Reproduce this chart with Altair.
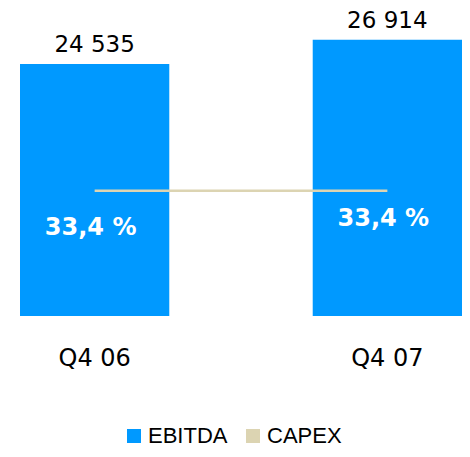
import altair as alt
import pandas as pd

quarters = ["Q4 06", "Q4 07"]
ebitda = [24535, 26914]
capex = [12200, 12200]
value_labels = ["24 535", "26 914"]
margin_labels = ["33,4 %", "33,4 %"]
series = ["EBITDA", "CAPEX"]
colors = ["#0099FF", "#DCD4B2"]

df = pd.DataFrame({
    "quarter": quarters,
    "ebitda": ebitda,
    "capex": capex,
    "vlabel": value_labels,
    "mlabel": margin_labels,
    "series": ["EBITDA"] * len(quarters),
})

xenc = alt.X(
    "quarter:N",
    sort=quarters,
    scale=alt.Scale(range=[12, 454], paddingInner=0.49, paddingOuter=0),
    axis=alt.Axis(title=None, labelAngle=0, ticks=False, domain=False, grid=False,
                  labelFont="DejaVu Sans", labelFontSize=24, labelColor="#000000",
                  labelPadding=30),
)
yscale = alt.Scale(domain=[0, 30000], nice=False)

base = alt.Chart(df)

bars = base.mark_bar().encode(
    x=xenc,
    y=alt.Y("ebitda:Q", scale=yscale, axis=None),
    color=alt.Color(
        "series:N",
        scale=alt.Scale(domain=series, range=colors),
        legend=alt.Legend(
            title=None, orient="none", direction="horizontal",
            legendX=115, legendY=417,
            symbolType="square", symbolSize=196, symbolStrokeWidth=0,
            labelFont="Liberation Sans", labelFontSize=22, labelColor="#000000",
            labelOffset=3, columnPadding=14,
        ),
    ),
)

line = base.mark_line(color=colors[1], strokeWidth=2.5).encode(
    x=xenc,
    y=alt.Y("capex:Q", scale=yscale),
)

vlabels = base.mark_text(baseline="alphabetic", dy=-12, fontSize=23,
                         font="DejaVu Sans", color="#000000").encode(
    x=xenc,
    y=alt.Y("ebitda:Q", scale=yscale),
    text="vlabel:N",
)

mlabels = base.transform_calculate(ly="datum.ebitda * 0.35").mark_text(
    baseline="middle", dx=-4, fontSize=24, font="DejaVu Sans",
    fontWeight="bold", color="#FFFFFF").encode(
    x=xenc,
    y=alt.Y("ly:Q", scale=yscale),
    text="mlabel:N",
)

chart = alt.layer(bars, line, vlabels, mlabels).properties(
    width=454, height=308,
    autosize=alt.AutoSizeParams(type="none"),
    padding={"left": 0, "top": 0, "right": 0, "bottom": 133},
).configure_view(stroke=None)

chart.save("out.html", embed_options={"renderer": "svg", "actions": False})
